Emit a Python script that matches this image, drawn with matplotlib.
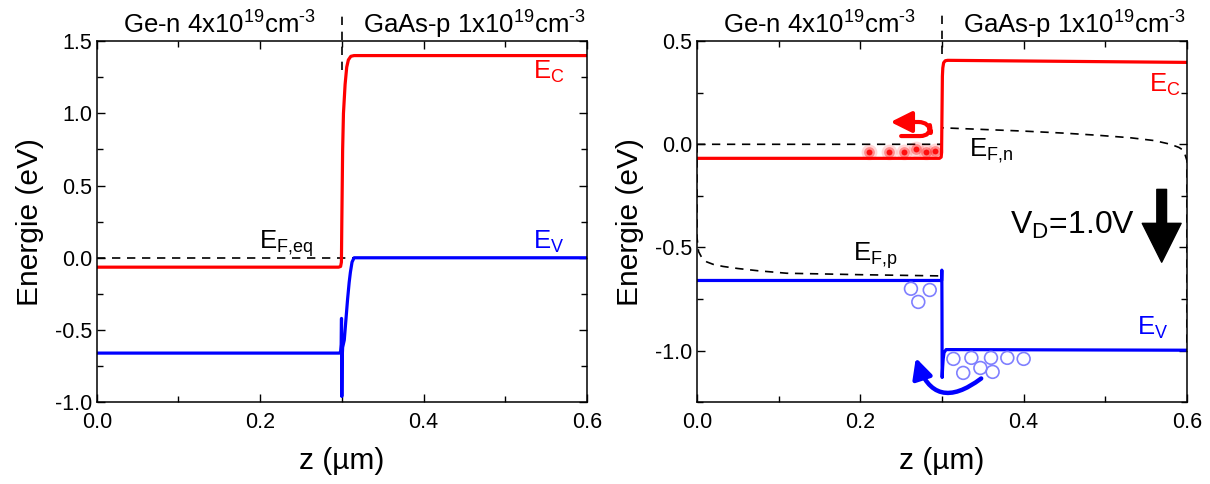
#band diagrams Ge-n / GaAs-p, equilibrium and forward bias
import numpy as np
import matplotlib.pyplot as plt
from matplotlib.patches import FancyArrowPatch

plt.rcParams['font.family'] = ['Liberation Sans', 'DejaVu Sans']
plt.rcParams['mathtext.fontset'] = 'custom'
plt.rcParams['mathtext.rm'] = 'Liberation Sans'
plt.rcParams['mathtext.it'] = 'Liberation Sans'
plt.rcParams['mathtext.bf'] = 'Liberation Sans:bold'
plt.rcParams['axes.unicode_minus'] = False

#equilibrium (left panel)
z_ec_eq = [0.0, 0.296, 0.2985, 0.2995, 0.300, 0.301, 0.302, 0.304, 0.306, 0.308, 0.311, 0.315, 0.6]
ec_eq = [-0.065, -0.065, -0.06, -0.03, 0.25, 0.75, 1.0, 1.2, 1.32, 1.37, 1.395, 1.40, 1.40]
z_ev_eq = [0.0, 0.297, 0.2985, 0.2992, 0.2996, 0.3000, 0.3004, 0.3010, 0.303, 0.305,
           0.307, 0.309, 0.3105, 0.3125, 0.315, 0.6]
ev_eq = [-0.66, -0.66, -0.65, -0.60, -0.42, -0.96, -0.70, -0.62, -0.57, -0.43,
         -0.29, -0.17, -0.10, -0.03, 0.0, 0.0]
z_ef_eq = [0.0, 0.6]
ef_eq = [0.0, 0.0]

#forward bias VD = 1.0 V (right panel)
z_ec_b = [0.0, 0.297, 0.299, 0.2995, 0.300, 0.3005, 0.301, 0.302, 0.304, 0.307, 0.6]
ec_b = [-0.068, -0.068, -0.062, -0.04, 0.15, 0.33, 0.37, 0.395, 0.405, 0.407, 0.397]
z_ev_b = [0.0, 0.2995, 0.2998, 0.3000, 0.3002, 0.3008, 0.3015, 0.3025, 0.305, 0.6]
ev_b = [-0.66, -0.66, -0.61, -0.80, -1.13, -1.08, -1.04, -1.01, -0.995, -0.998]
z_efn = [0.0, 0.300, 0.300, 0.35, 0.40, 0.45, 0.49, 0.53, 0.56, 0.58, 0.59, 0.596, 0.6, 0.6]
efn = [0.0, 0.0, 0.08, 0.072, 0.064, 0.054, 0.044, 0.032, 0.018, 0.0, -0.015, -0.03, -0.08, -1.0]
z_efp = [0.0, 0.0, 0.002, 0.006, 0.012, 0.02, 0.032, 0.05, 0.075, 0.11, 0.15, 0.2, 0.25, 0.3]
efp = [0.0, -0.45, -0.52, -0.55, -0.57, -0.582, -0.592, -0.602, -0.613, -0.625, -0.628,
       -0.632, -0.635, -0.638]

#electrons (red dots) and holes (open circles)
z_elec = [0.211, 0.235, 0.254, 0.268, 0.280, 0.292]
e_elec = [-0.039, -0.039, -0.039, -0.024, -0.039, -0.034]
z_hole = [0.262, 0.285, 0.271, 0.314, 0.336, 0.360, 0.380, 0.400, 0.326, 0.347, 0.362]
e_hole = [-0.700, -0.706, -0.764, -1.040, -1.035, -1.035, -1.035, -1.040, -1.108, -1.084, -1.103]

red = '#ff0000'
blue = '#0000ff'
hdr_ge = 'Ge-n 4x10$^{19}$cm$^{\\text{-}3}$'
hdr_gaas = 'GaAs-p 1x10$^{19}$cm$^{\\text{-}3}$'

fig = plt.figure(figsize=(12.1, 4.84), dpi=100)
ax1 = fig.add_axes([0.080, 0.169, 0.405, 0.746])
ax2 = fig.add_axes([0.576, 0.169, 0.405, 0.746])

for ax in (ax1, ax2):
    ax.set_xlim(0, 0.6)
    ax.set_xticks([0.0, 0.2, 0.4, 0.6])
    ax.set_xticks([0.1, 0.3, 0.5], minor=True)
    ax.tick_params(which='both', direction='in', top=True, right=True, labelsize=15.5, width=1.0)
    ax.tick_params(which='major', length=6)
    ax.tick_params(which='minor', length=4)
    ax.tick_params(axis='x', pad=7)
    ax.xaxis.set_major_formatter(plt.FormatStrFormatter('%.1f'))
    ax.yaxis.set_major_formatter(plt.FormatStrFormatter('%.1f'))
    for s in ax.spines.values():
        s.set_linewidth(1.1)
    ax.set_xlabel('z (µm)', fontsize=21.5, labelpad=10)
    ax.set_ylabel('Energie (eV)', fontsize=21.5, labelpad=8)
    ax.text(0.15, 1.02, hdr_ge, transform=ax.get_xaxis_transform(),
            ha='center', va='baseline', fontsize=18.5)
    ax.text(0.462, 1.02, hdr_gaas, transform=ax.get_xaxis_transform(),
            ha='center', va='baseline', fontsize=18.5)

#left panel
ax1.plot(z_ef_eq, ef_eq, color='black', lw=1.2, ls=(0, (5, 4)))
ax1.plot(z_ec_eq, ec_eq, color=red, lw=2.3)
ax1.plot(z_ev_eq, ev_eq, color=blue, lw=2.3)
ax1.plot([0.3, 0.3], [1.30, 1.70], color='black', lw=1.2, ls=(0, (5, 4)), clip_on=False)
ax1.set_ylim(-1.0, 1.5)
ax1.set_yticks(np.arange(-1.0, 1.51, 0.5))
ax1.set_yticks(np.arange(-0.75, 1.5, 0.5), minor=True)
ax1.text(0.553, 1.29, '$\\mathregular{E_C}$', color=red, fontsize=18.5, ha='center', va='center')
ax1.text(0.553, 0.11, '$\\mathregular{E_V}$', color=blue, fontsize=18.5, ha='center', va='center')
ax1.text(0.232, 0.10, '$\\mathregular{E_{F{,}eq}}$', color='black', fontsize=18.5, ha='center', va='center')

#right panel
ax2.plot(z_efn, efn, color='black', lw=1.2, ls=(0, (5, 4)))
ax2.plot(z_efp, efp, color='black', lw=1.2, ls=(0, (5, 4)))
ax2.plot(z_ec_b, ec_b, color=red, lw=2.3)
ax2.plot(z_ev_b, ev_b, color=blue, lw=2.3)
ax2.plot([0.3, 0.3], [0.44, 0.64], color='black', lw=1.2, ls=(0, (5, 4)), clip_on=False)
ax2.set_ylim(-1.25, 0.5)
ax2.set_yticks([-1.0, -0.5, 0.0, 0.5])
ax2.set_yticks([-1.25, -0.75, -0.25, 0.25], minor=True)

#glowing electrons
ax2.scatter(z_elec, e_elec, s=130, color=red, alpha=0.15, lw=0, zorder=4)
ax2.scatter(z_elec, e_elec, s=60, color=red, alpha=0.35, lw=0, zorder=4)
ax2.scatter(z_elec, e_elec, s=18, color=red, alpha=0.9, lw=0, zorder=4)
ax2.scatter(z_hole, e_hole, s=85, facecolor='none', edgecolor='#8080ff', lw=1.2, zorder=4)

ax2.text(0.573, 0.29, '$\\mathregular{E_C}$', color=red, fontsize=18.5, ha='center', va='center')
ax2.text(0.36, -0.03, '$\\mathregular{E_{F{,}n}}$', color='black', fontsize=18.5, ha='center', va='center')
ax2.text(0.218, -0.54, '$\\mathregular{E_{F{,}p}}$', color='black', fontsize=18.5, ha='center', va='center')
ax2.text(0.558, -0.89, '$\\mathregular{E_V}$', color=blue, fontsize=18.5, ha='center', va='center')
ax2.text(0.46, -0.395, '$\\mathregular{V_D}$=1.0V', color='black', fontsize=23, ha='center', va='center')

#electron reflection arrow
ax2.add_patch(FancyArrowPatch((0.250, 0.040), (0.237, 0.108),
                              connectionstyle='arc,angleA=0,angleB=0,armA=30,armB=39,rad=11',
                              arrowstyle='-|>', mutation_scale=32, color=red, lw=3,
                              shrinkA=0, shrinkB=0, zorder=5))
#hole arrow
ax2.add_patch(FancyArrowPatch((0.348, -1.135), (0.268, -1.035),
                              connectionstyle='arc3,rad=-0.7',
                              arrowstyle='-|>', mutation_scale=30, color=blue, lw=3.2,
                              shrinkA=0, shrinkB=0, zorder=5))
#bias arrow
ax2.add_patch(FancyArrowPatch((0.569, -0.205), (0.569, -0.585),
                              arrowstyle='simple,head_length=28,head_width=28,tail_width=7',
                              mutation_scale=1, color='black', lw=1, joinstyle='round', zorder=5))

fig.savefig('out.png', dpi=100)
